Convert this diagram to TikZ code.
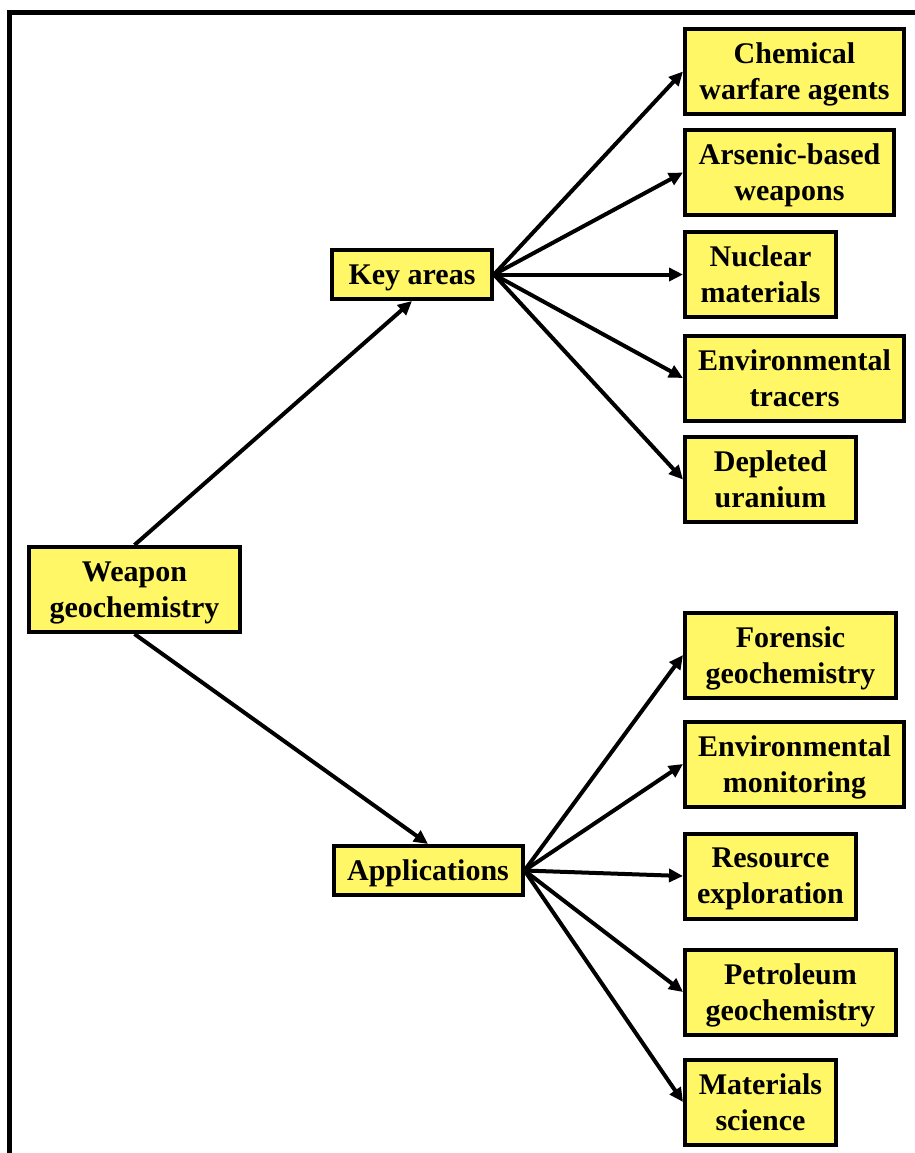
\documentclass[tikz,border=0pt]{standalone}
\usepackage{fontspec}
\setmainfont{Liberation Serif}
\usepackage{tikz}
\usetikzlibrary{arrows.meta}

\begin{document}
\begin{tikzpicture}[x=0.5pt,y=-0.5pt,>={Triangle[length=7pt,width=6.5pt]}]
  \tikzstyle{box}=[rectangle,draw=black,line width=2pt,fill=yellow!60,
                   font=\fontsize{15}{18}\selectfont\bfseries,align=center,
                   inner xsep=6pt,inner ysep=2pt,text depth=0pt,
                   minimum height=42.5pt]
  \tikzstyle{small box}=[box,minimum height=24.5pt]
  \tikzstyle{leaf}=[box,anchor=west]
  \tikzstyle{link}=[->,line width=2pt]
  \useasboundingbox (0,0) rectangle (915,1153);
  \draw [line width=2.5pt] (9.5,1200) -- (9.5,12.5) -- (960,12.5);
  % root and branches
  \node [box,minimum width=105.5pt] (wg) at (134.5,589.5) {Weapon\\geochemistry};
  \node [small box,minimum width=80pt] (ka) at (412,274.5) {Key areas};
  \node [small box,minimum width=94.5pt] (ap) at (428,870.5) {Applications};
  % key areas
  \node [leaf,minimum width=109.5pt] (cw) at (683,71.5) {Chemical\\warfare agents};
  \node [leaf,minimum width=104.5pt] (aw) at (683,172.5) {Arsenic-based\\weapons};
  \node [leaf,minimum width=75.5pt] (nm) at (683,274.5) {Nuclear\\materials};
  \node [leaf,minimum width=109.5pt] (et) at (683,378) {Environmental\\tracers};
  \node [leaf,minimum width=85.5pt] (du) at (683,479.5) {Depleted\\uranium};
  % applications
  \node [leaf,minimum width=105.5pt] (fg) at (683,655) {Forensic\\geochemistry};
  \node [leaf,minimum width=109.5pt] (em) at (683,764) {Environmental\\monitoring};
  \node [leaf,minimum width=85.5pt] (re) at (683,876) {Resource\\exploration};
  \node [leaf,minimum width=105.5pt] (pg) at (683,992) {Petroleum\\geochemistry};
  \node [leaf,minimum width=75.5pt] (ms) at (683,1102) {Materials\\science};
  \draw [link] (wg.north) -- (ka.south);
  \draw [link] (wg.south) -- (ap.north);
  \draw [link] (ka.east) -- (cw.west);
  \draw [link] (ka.east) -- (aw.west);
  \draw [link] (ka.east) -- (nm.west);
  \draw [link] (ka.east) -- (et.west);
  \draw [link] (ka.east) -- (du.west);
  \draw [link] (ap.east) -- (fg.west);
  \draw [link] (ap.east) -- (em.west);
  \draw [link] (ap.east) -- (re.west);
  \draw [link] (ap.east) -- (pg.west);
  \draw [link] (ap.east) -- (ms.west);
\end{tikzpicture}
\end{document}
